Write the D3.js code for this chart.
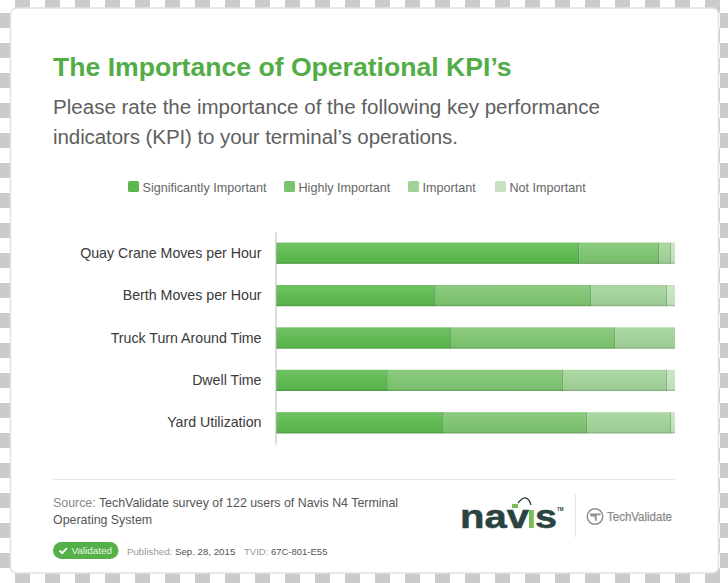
<!DOCTYPE html>
<html><head><meta charset="utf-8">
<script src="https://cdn.jsdelivr.net/npm/d3@7/dist/d3.min.js"></script>
<style>html,body{margin:0;padding:0;background:#fff}svg{display:block}text{font-family:"Liberation Sans",Arial,sans-serif}</style>
</head><body><svg id="c" width="728" height="583"></svg>
<script>
const categories = ["Quay Crane Moves per Hour","Berth Moves per Hour","Truck Turn Around Time","Dwell Time","Yard Utilization"];
const seriesNames = ["Significantly Important","Highly Important","Important","Not Important"];
const significantly = [76,40,44,28,42];
const highly = [20,39,41,44,36];
const important = [3,19,15,26,21];
const notImportant = [1,2,0,2,1];
const seriesColors = ["#5cb84e","#7cc36f","#a0d197","#c6e0c0"];
const allSeries = [significantly,highly,important,notImportant];

const svg = d3.select("#c");
const defs = svg.append("defs");
const pat = defs.append("pattern").attr("id","chk").attr("patternUnits","userSpaceOnUse")
  .attr("x",0).attr("y",-2).attr("width",30).attr("height",30);
pat.append("rect").attr("x",15).attr("y",0).attr("width",15).attr("height",15).attr("fill","#cbcbcb");
pat.append("rect").attr("x",0).attr("y",15).attr("width",15).attr("height",15).attr("fill","#cbcbcb");
const grad = defs.append("linearGradient").attr("id","sheen").attr("x1",0).attr("x2",0).attr("y1",0).attr("y2",1);
[[0,"#fff",0.08],[0.12,"#fff",0.12],[0.5,"#fff",0.03],[0.9,"#000",0.02],[1,"#000",0.2]].forEach(s=>
  grad.append("stop").attr("offset",s[0]).attr("stop-color",s[1]).attr("stop-opacity",s[2]));

svg.append("rect").attr("width",728).attr("height",583).attr("fill","#fff");
svg.append("rect").attr("width",728).attr("height",583).attr("fill","url(#chk)");
svg.append("rect").attr("x",10.5).attr("y",8).attr("width",708).attr("height",565).attr("rx",6)
  .attr("fill","#fff").attr("stroke","#e2e2e2").attr("stroke-width",1.5);

svg.append("text").attr("x",53).attr("y",76).attr("font-size",26.6).attr("font-weight",700).attr("fill","#52ad47")
  .text("The Importance of Operational KPI\u2019s");
[["Please rate the importance of the following key performance",114,547],["indicators (KPI) to your terminal\u2019s operations.",144,405]]
  .forEach(d=>svg.append("text").attr("x",53).attr("y",d[1]).attr("font-size",20.55).attr("fill","#606060")
    .attr("textLength",d[2]).text(d[0]));

// legend
const legendX = [128,284,408,495];
seriesNames.forEach((n,i)=>{
  svg.append("rect").attr("x",legendX[i]).attr("y",181).attr("width",11).attr("height",11).attr("rx",1.5).attr("fill",seriesColors[i]);
  svg.append("text").attr("x",legendX[i]+14.5).attr("y",192).attr("font-size",12.6).attr("fill","#666").text(n);
});

// chart
const x = d3.scaleLinear().domain([0,100]).range([276,675]);
const y = d3.scaleBand().domain(categories).range([232,444]).paddingInner(0.5).paddingOuter(0.25);
const stack = d3.stack().keys(d3.range(4)).value((d,k)=>allSeries[k][d])(d3.range(categories.length));
svg.append("g").selectAll("g").data(stack).join("g").attr("fill",(d,i)=>seriesColors[i])
  .selectAll("rect").data(d=>d.map((v,j)=>({v,j}))).join("rect")
  .attr("x",d=>x(d.v[0])).attr("width",d=>x(d.v[1])-x(d.v[0]))
  .attr("y",d=>y(categories[d.j])).attr("height",y.bandwidth());
svg.append("g").selectAll("rect").data(categories).join("rect")
  .attr("x",x(0)).attr("width",x(100)-x(0)).attr("y",d=>y(d)).attr("height",y.bandwidth()).attr("fill","url(#sheen)");
// darker divider at the right edge of each segment
svg.append("g").selectAll("g").data(stack.slice(0,3)).join("g")
  .selectAll("rect").data(d=>d.map((v,j)=>({v,j})).filter(e=>e.v[1]<100)).join("rect")
  .attr("x",d=>x(d.v[1])-1).attr("width",1).attr("y",d=>y(categories[d.j])).attr("height",y.bandwidth())
  .attr("fill","#000").attr("opacity",0.14);

const axis = svg.append("g").attr("transform","translate(275.5,0)").call(d3.axisLeft(y).tickSize(0).tickPadding(14));
axis.select(".domain").attr("stroke","#bbb");
axis.selectAll("text").attr("font-size",14.2).attr("fill","#3a3a3a").attr("font-family","'Liberation Sans',Arial,sans-serif");

// footer
svg.append("line").attr("x1",53).attr("x2",675).attr("y1",479.5).attr("y2",479.5).attr("stroke","#e6e6e6");
const src = svg.append("text").attr("x",53).attr("y",507).attr("font-size",12.4).attr("fill","#555");
src.append("tspan").attr("fill","#888").text("Source: ");
src.append("tspan").text("TechValidate survey of 122 users of Navis N4 Terminal");
svg.append("text").attr("x",53).attr("y",524).attr("font-size",12.4).attr("fill","#555").text("Operating System");

svg.append("rect").attr("x",53).attr("y",542).attr("width",65.5).attr("height",17).attr("rx",8.5).attr("fill","#55b04a");
svg.append("path").attr("d","M59.5 550.5l2.6 2.6 4.8-5").attr("fill","none").attr("stroke","#fff").attr("stroke-width",1.8);
svg.append("text").attr("x",71.5).attr("y",554).attr("font-size",9.9).attr("fill","#e6f4e3").text("Validated");
const pub = svg.append("text").attr("x",127).attr("y",554.5).attr("font-size",9.7).attr("fill","#999");
pub.append("tspan").text("Published: ");
pub.append("tspan").attr("fill","#555").text("Sep. 28, 2015");
const tv = svg.append("text").attr("x",244).attr("y",554.5).attr("font-size",9.5).attr("fill","#999");
tv.append("tspan").text("TVID: ");
tv.append("tspan").attr("fill","#555").text("67C-801-E55");

// logos
const navy = "#2b4340";
[["nav",460,69],["s",535,22]].forEach(d=>
  svg.append("text").attr("x",d[1]).attr("y",528).attr("font-size",33).attr("font-weight",700).attr("fill",navy)
    .attr("textLength",d[2]).attr("lengthAdjust","spacingAndGlyphs").attr("stroke",navy).attr("stroke-width",0.5).text(d[0]));
svg.append("rect").attr("x",529).attr("y",510).attr("width",4.8).attr("height",18).attr("fill","#79bd55");
svg.append("rect").attr("x",512).attr("y",504).attr("width",6).attr("height",4).attr("fill","#79bd55");
svg.append("path").attr("d","M518 503Q527 492 531 505").attr("fill","none").attr("stroke",navy).attr("stroke-width",1.3);
svg.append("text").attr("x",557).attr("y",511).attr("font-size",4.5).attr("font-weight",700).attr("fill",navy).text("TM");
svg.append("line").attr("x1",575.5).attr("x2",575.5).attr("y1",494).attr("y2",537).attr("stroke","#e4e4e4");
svg.append("circle").attr("cx",595).attr("cy",516.5).attr("r",7.8).attr("fill","none").attr("stroke","#8f8f8f").attr("stroke-width",1.5);
svg.append("path").attr("d","M589.5 513.5h11v1.8h-3.8v5.5h-1.6l-.6-4.2h-3.6z").attr("fill","#8f8f8f");
svg.append("text").attr("x",607).attr("y",521).attr("font-size",12.5).attr("fill","#8c8c8c").attr("stroke","#8c8c8c").attr("stroke-width",0.25)
  .attr("textLength",65).attr("lengthAdjust","spacingAndGlyphs").text("TechValidate");
</script></body></html>
